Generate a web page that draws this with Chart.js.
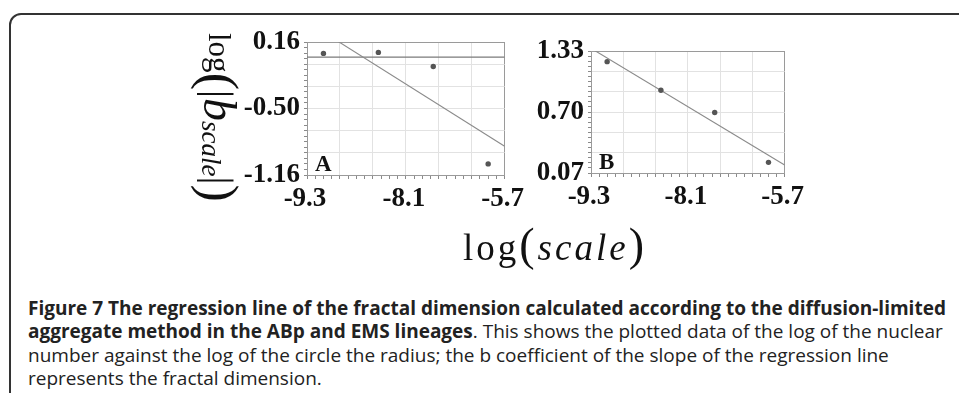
<!DOCTYPE html>
<html>
<head>
<meta charset="utf-8">
<script src="https://cdn.jsdelivr.net/npm/chart.js@4/dist/chart.umd.min.js"></script>
<style>
  html, body { margin: 0; padding: 0; background: #fff; }
  body { width: 959px; height: 393px; position: relative; overflow: hidden; }
  .frame {
    position: absolute; left: 9px; top: 13px; width: 980px; height: 420px;
    border: 2px solid #333; border-top-left-radius: 12px; box-sizing: border-box;
  }
  canvas { position: absolute; }
  #chartA { left: 230px; top: 20px; }
  #chartB { left: 520px; top: 20px; }
  .ytitle {
    position: absolute; left: 186px; top: 33px;
    writing-mode: vertical-rl; white-space: nowrap;
    font-family: "Liberation Serif", serif; font-size: 31px; color: #111; line-height: 50px;
  }
  .ytitle .paren { font-size: 52px; }
  .ytitle .bar { font-size: 40px; }
  .ytitle .b { font-size: 46px; }
  .ytitle sub { font-size: 27px; vertical-align: -8px; }
  .xtitle {
    position: absolute; left: 463px; top: 218px; white-space: nowrap; letter-spacing: 3px;
    font-family: "Liberation Serif", serif; font-size: 37px; color: #111;
  }
  .xtitle .paren { font-size: 46px; }
  .caption {
    position: absolute; left: 28px; top: 297px;
    font-family: "Open Sans", sans-serif; font-size: 19px; color: #222;
  }
  .caption div { height: 23.3px; line-height: 23.3px; white-space: nowrap; }
</style>
</head>
<body>
<div class="frame"></div>
<canvas id="chartA" width="300" height="210"></canvas>
<canvas id="chartB" width="290" height="210"></canvas>
<div class="ytitle">log<span class="paren">(</span><span class="bar">|</span><i class="b">b</i><sub><i>scale</i></sub><span class="bar">|</span><span class="paren">)</span></div>
<div class="xtitle">log<span class="paren">(</span><i>scale</i><span class="paren">)</span></div>
<div class="caption">
  <div><b>Figure 7 The regression line of the fractal dimension calculated according to the diffusion-limited</b></div>
  <div><b>aggregate method in the ABp and EMS lineages</b>. This shows the plotted data of the log of the nuclear</div>
  <div>number against the log of the circle the radius; the b coefficient of the slope of the regression line</div>
  <div>represents the fractal dimension.</div>
</div>
<script>
// log(scale) positions of the four measurements (same for both lineages)
const logScale = [-9, -8, -7, -6];
// log(|b_scale|) values
const abpValues = [0.047, 0.057, -0.083, -1.05];
const emsValues = [1.22, 0.925, 0.695, 0.18];
// flat reference line in panel A
const abpFlatLine = 0.01;

const xRange = [-9.3, -5.7];
const xTickLabels = ['-9.3', '-8.1', '-5.7'];
const yRangeA = [-1.16, 0.16];
const yTickLabelsA = ['-1.16', '-0.50', '0.16'];
const yRangeB = [0.07, 1.33];
const yTickLabelsB = ['0.07', '0.70', '1.33'];

// least squares fit, returns the line across the x range
function regression(xs, ys) {
  const n = xs.length;
  const mx = xs.reduce((a, b) => a + b, 0) / n;
  const my = ys.reduce((a, b) => a + b, 0) / n;
  let sxy = 0, sxx = 0;
  for (let i = 0; i < n; i++) {
    sxy += (xs[i] - mx) * (ys[i] - my);
    sxx += (xs[i] - mx) * (xs[i] - mx);
  }
  const slope = sxy / sxx;
  return xRange.map(x => ({ x: x, y: my + slope * (x - mx) }));
}

// 6 major divisions, 4 minor steps each
function evenTicks(range) {
  const out = [];
  for (let i = 0; i <= 24; i++) out.push({ value: range[0] + (range[1] - range[0]) * i / 24 });
  return out;
}

function gridColor(ctx) {
  const i = ctx.index;
  if (i === 0 || i === 24) return '#9a9a9a';
  return i % 4 === 0 ? '#e2e2e2' : 'rgba(0,0,0,0)';
}

const panelLetter = {
  id: 'panelLetter',
  afterDraw(chart, args, opts) {
    const c = chart.ctx, a = chart.chartArea;
    c.save();
    c.font = 'bold 23px "Liberation Serif"';
    c.fillStyle = '#111';
    c.textBaseline = 'alphabetic';
    c.fillText(opts.text, a.left + 8, a.bottom - 4);
    c.restore();
  }
};

const tickFont = { family: 'Liberation Serif', size: 27, weight: 'bold' };

function renderiza_painel(id, yValues, yRange, yLabels, letter, extra, box) {
  const points = logScale.map((x, i) => ({ x: x, y: yValues[i] }));
  const datasets = [{
    type: 'scatter',
    data: points,
    pointRadius: 2.7,
    pointBackgroundColor: '#555',
    pointBorderWidth: 0
  }, {
    type: 'line',
    data: regression(logScale, yValues),
    borderColor: '#8a8a8a',
    borderWidth: 1.1,
    pointRadius: 0,
    clip: 0
  }];
  if (extra !== null) {
    datasets.push({
      type: 'line',
      data: xRange.map(x => ({ x: x, y: extra })),
      borderColor: '#7a7a7a',
      borderWidth: 1.3,
      pointRadius: 0,
      clip: 0
    });
  }
  new Chart(document.getElementById(id), {
    data: { datasets: datasets },
    plugins: [panelLetter],
    options: {
      responsive: false,
      animation: false,
      layout: { padding: box.padding },
      plugins: { legend: { display: false }, tooltip: { enabled: false }, panelLetter: { text: letter } },
      scales: {
        x: {
          type: 'linear', min: xRange[0], max: xRange[1],
          afterBuildTicks: s => { s.ticks = evenTicks(xRange); },
          afterFit: s => { s.height = box.xHeight; },
          grid: { color: gridColor, tickColor: '#8a8a8a', tickLength: 4 },
          border: { color: '#9a9a9a' },
          ticks: {
            autoSkip: false, maxRotation: 0, minRotation: 0,
            padding: 4, labelOffset: -2, color: '#111', font: tickFont,
            callback: (v, i) => i % 12 === 0 ? xTickLabels[i / 12] : ''
          }
        },
        y: {
          type: 'linear', min: yRange[0], max: yRange[1],
          afterBuildTicks: s => { s.ticks = evenTicks(yRange); },
          afterFit: s => { s.width = box.yWidth; },
          grid: { color: gridColor, tickColor: '#8a8a8a', tickLength: 3 },
          border: { color: '#9a9a9a' },
          ticks: {
            autoSkip: false, padding: 4, color: '#111', font: tickFont,
            callback: (v, i) => i % 12 === 0 ? yLabels[i / 12] : ''
          }
        }
      }
    }
  });
}

renderiza_painel('chartA', abpValues, yRangeA, yTickLabelsA, 'A', abpFlatLine,
  { padding: { top: 22, right: 25, bottom: 5, left: 0 }, xHeight: 50, yWidth: 77 });
renderiza_painel('chartB', emsValues, yRangeB, yTickLabelsB, 'B', null,
  { padding: { top: 31, right: 23, bottom: 5, left: 0 }, xHeight: 52, yWidth: 71 });
</script>
</body>
</html>
